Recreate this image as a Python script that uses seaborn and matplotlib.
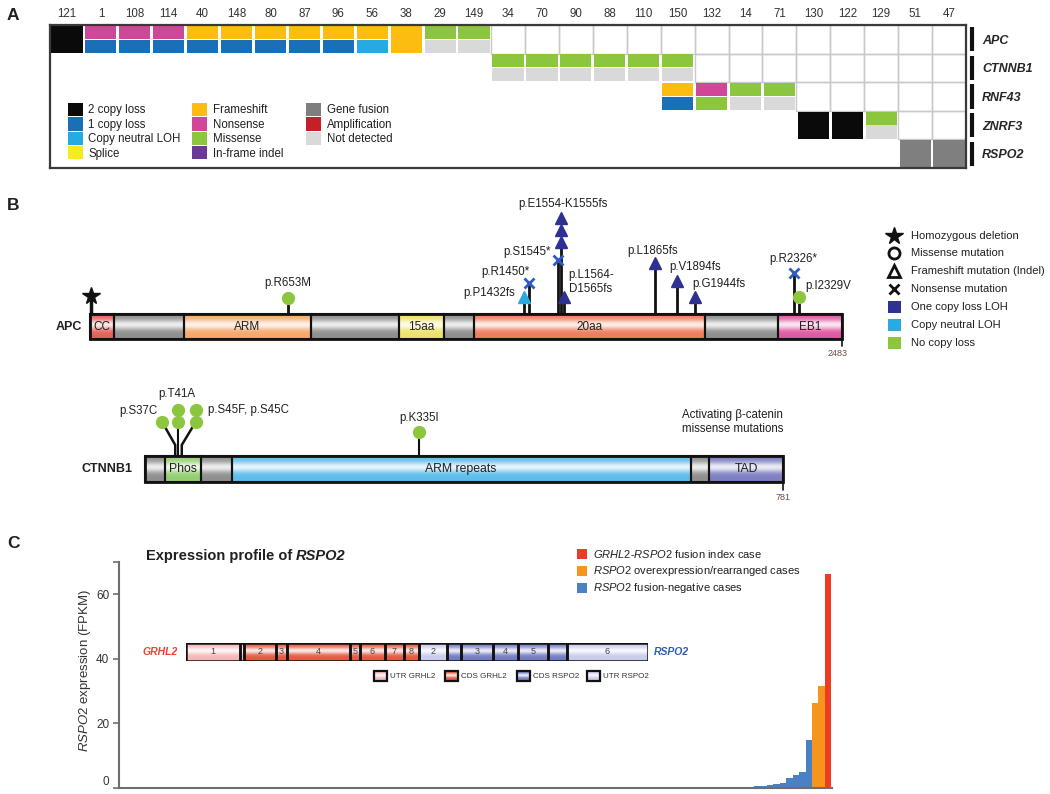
import numpy as np
import pandas as pd
import matplotlib
matplotlib.use('Agg')
import matplotlib.pyplot as plt
from matplotlib.patches import Rectangle
from matplotlib.colors import to_rgb
import seaborn as sns

sns.set_theme(style='white')
plt.rcParams['font.family'] = ['Liberation Sans', 'DejaVu Sans']
plt.rcParams['mathtext.fontset'] = 'custom'
plt.rcParams['mathtext.rm'] = 'Liberation Sans'
plt.rcParams['mathtext.it'] = 'Liberation Sans:italic'
plt.rcParams['mathtext.bf'] = 'Liberation Sans:bold'
plt.rcParams['text.color'] = '#231f20'

#%% Panel A data: samples, genes and calls (top half = mutation, bottom half = copy number)
samples = ['121', '1', '108', '114', '40', '148', '80', '87', '96', '56', '38', '29', '149',
           '34', '70', '90', '88', '110', '150', '132', '14', '71', '130', '122', '129', '51', '47']
genes = ['APC', 'CTNNB1', 'RNF43', 'ZNRF3', 'RSPO2']

apc_calls = {'121': ('2 copy loss', '2 copy loss'), '1': ('Nonsense', '1 copy loss'),
             '108': ('Nonsense', '1 copy loss'), '114': ('Nonsense', '1 copy loss'),
             '40': ('Frameshift', '1 copy loss'), '148': ('Frameshift', '1 copy loss'),
             '80': ('Frameshift', '1 copy loss'), '87': ('Frameshift', '1 copy loss'),
             '96': ('Frameshift', '1 copy loss'), '56': ('Frameshift', 'Copy neutral LOH'),
             '38': ('Frameshift', 'Frameshift'), '29': ('Missense', 'Not detected'),
             '149': ('Missense', 'Not detected')}
ctnnb1_calls = {'34': ('Missense', 'Not detected'), '70': ('Missense', 'Not detected'),
                '90': ('Missense', 'Not detected'), '88': ('Missense', 'Not detected'),
                '110': ('Missense', 'Not detected'), '150': ('Missense', 'Not detected')}
rnf43_calls = {'150': ('Frameshift', '1 copy loss'), '132': ('Nonsense', 'Missense'),
               '14': ('Missense', 'Not detected'), '71': ('Missense', 'Not detected')}
znrf3_calls = {'130': ('2 copy loss', '2 copy loss'), '122': ('2 copy loss', '2 copy loss'),
               '129': ('Missense', 'Not detected')}
rspo2_calls = {'51': ('Gene fusion', 'Gene fusion'), '47': ('Gene fusion', 'Gene fusion')}
gene_calls = [apc_calls, ctnnb1_calls, rnf43_calls, znrf3_calls, rspo2_calls]

alt_colors = {'2 copy loss': '#0a0a0a', '1 copy loss': '#1a6fb7', 'Copy neutral LOH': '#27aae1',
              'Splice': '#f4ec1b', 'Frameshift': '#fdbd10', 'Nonsense': '#d0479a',
              'Missense': '#8cc63e', 'In-frame indel': '#6b3a96', 'Gene fusion': '#7f7f7f',
              'Amplification': '#c4202a', 'Not detected': '#d9d9d9'}
legend_cols = [['2 copy loss', '1 copy loss', 'Copy neutral LOH', 'Splice'],
               ['Frameshift', 'Nonsense', 'Missense', 'In-frame indel'],
               ['Gene fusion', 'Amplification', 'Not detected']]

#%% Panel B data: protein domains and mutations
apc_len = 2483
apc_dom_name = ['CC', '', 'ARM', '', '15aa', '', '20aa', '', 'EB1']
apc_dom_start = [0, 80, 310, 730, 1020, 1169, 1268, 2030, 2271]
apc_dom_end = [80, 310, 730, 1020, 1169, 1268, 2030, 2271, 2483]
apc_dom_color = ['#e4625e', '#8f8f8f', '#f6a86c', '#8f8f8f', '#ece36a', '#8f8f8f', '#ee7d5e', '#8f8f8f', '#e05aa2']

apc_mut_label = ['p.R653M', 'p.P1432fs', 'p.R1450*', 'p.S1545*', 'p.E1554-K1555fs', 'p.L1564-\nD1565fs',
                 'p.L1865fs', 'p.V1894fs', 'p.G1944fs', 'p.R2326*', 'p.I2329V']
apc_mut_pos = [653, 1432, 1450, 1545, 1554, 1564, 1865, 1938, 1997, 2323, 2341]
apc_mut_type = ['missense', 'frameshift', 'nonsense', 'nonsense', 'frameshift', 'frameshift',
                'frameshift', 'frameshift', 'frameshift', 'nonsense', 'missense']
apc_mut_cn = ['none', 'neutral', 'one', 'one', 'one', 'one', 'one', 'one', 'one', 'one', 'none']
apc_mut_count = [1, 1, 1, 1, 3, 1, 1, 1, 1, 1, 1]

ctn_len = 781
ctn_dom_name = ['', 'Phos', '', 'ARM repeats', '', 'TAD']
ctn_dom_start = [0, 24, 68, 106, 668, 691]
ctn_dom_end = [24, 68, 106, 668, 691, 781]
ctn_dom_color = ['#8f8f8f', '#93cf72', '#8f8f8f', '#5ebdea', '#8f8f8f', '#7e7ec2']
ctn_mut_label = ['p.S37C', 'p.T41A', 'p.S45F, p.S45C', 'p.K335I']
ctn_mut_pos = [37, 41, 45, 335]
ctn_mut_count = [1, 2, 2, 1]

#%% Panel C data: RSPO2 FPKM, cases sorted
fusion_neg = [0, 0, 0, 0, 0, 0, 0, 0, 0, 0, 0, 0, 0, 0, 0, 0, 0, 0, 0, 0,
              0, 0, 0, 0, 0, 0, 0, 0, 0, 0, 0, 0, 0, 0, 0, 0, 0, 0, 0, 0,
              0, 0, 0, 0, 0, 0, 0, 0, 0, 0, 0, 0, 0, 0, 0, 0, 0, 0, 0, 0,
              0, 0, 0, 0, 0, 0, 0, 0, 0, 0, 0, 0, 0, 0, 0, 0, 0, 0, 0, 0,
              0, 0, 0, 0, 0, 0, 0.1, 0.1, 0.1, 0.1, 0.1, 0.1,
              0.15, 0.2, 0.2, 0.25, 0.3, 0.3, 0.5, 0.6, 0.9, 1.1, 1.5, 3.1, 4.0, 4.9, 14.8]
rspo2_over = [26.2, 31.7]
fusion_index = [66.2]
c_colors = {'neg': '#4a80c4', 'over': '#f7941d', 'index': '#ef3b24'}

exon_label = ['1', '', '2', '3', '4', '5', '6', '7', '8', '2', '', '3', '4', '5', '', '6']
exon_width = [54, 4, 32, 11, 63, 10, 25, 19, 15, 28, 14, 32, 25, 30, 19, 81]
exon_kind = ['UTR GRHL2', 'UTR GRHL2', 'CDS GRHL2', 'CDS GRHL2', 'CDS GRHL2', 'CDS GRHL2', 'CDS GRHL2',
             'CDS GRHL2', 'CDS GRHL2', 'UTR RSPO2', 'CDS RSPO2', 'CDS RSPO2', 'CDS RSPO2', 'CDS RSPO2',
             'CDS RSPO2', 'UTR RSPO2']
exon_colors = {'UTR GRHL2': '#f5b7b5', 'CDS GRHL2': '#e25a40', 'CDS RSPO2': '#737dc4', 'UTR RSPO2': '#c8ccee'}

#%% figure
W, H = 1050, 794
fig = plt.figure(figsize=(10.5, 7.94), dpi=100)


def px_axes(x0, y0, x1, y1):
    a = fig.add_axes([x0 / W, 1 - y1 / H, (x1 - x0) / W, (y1 - y0) / H])
    a.patch.set_visible(False)
    return a


def shiny_box(ax, x0, x1, yb, yt, color, lw=1.5, z=2):
    base = np.array(to_rgb(color))
    t = np.linspace(0, 1, 48)[:, None]
    w = 0.85 * np.exp(-((t - 0.42) / 0.2) ** 2)
    img = (base * (1 - w) + w)[:, None, :]
    ax.imshow(img, extent=(x0, x1, yb, yt), origin='upper', aspect='auto',
              interpolation='bilinear', zorder=z)
    ax.add_patch(Rectangle((x0, min(yb, yt)), x1 - x0, abs(yt - yb), fill=False,
                           ec='#111111', lw=lw, zorder=z + 0.1))


# ---------- Panel A ----------
axA = px_axes(50, 25, 966, 168)
nS, nG = len(samples), len(genes)
col = {s: i for i, s in enumerate(samples)}
for r, calls in enumerate(gene_calls):
    last = max(col[s] for s in calls)
    for c in range(last + 1, nS):
        axA.add_patch(Rectangle((c, r), 1, 1, fill=False, ec='#c9c9c9', lw=1, zorder=1))
    for s, (top, bot) in calls.items():
        c = col[s]
        if top == bot:
            axA.add_patch(Rectangle((c + 0.04, r + 0.03), 0.92, 0.94, fc=alt_colors[top], ec='none', zorder=2))
        else:
            axA.add_patch(Rectangle((c + 0.04, r + 0.03), 0.92, 0.45, fc=alt_colors[top], ec='none', zorder=2))
            axA.add_patch(Rectangle((c + 0.04, r + 0.51), 0.92, 0.46, fc=alt_colors[bot], ec='none', zorder=2))
    axA.plot([nS + 0.18, nS + 0.18], [r + 0.08, r + 0.92], color='#111111', lw=3,
             solid_capstyle='butt', clip_on=False)
axA.set_xlim(0, nS)
axA.set_ylim(nG, 0)
axA.set_xticks(np.arange(nS) + 0.5, samples)
axA.xaxis.tick_top()
axA.tick_params(axis='x', length=0, pad=3.5, labelsize=8.3, labelcolor='#333333')
axA.set_yticks(np.arange(nG) + 0.5, genes)
axA.yaxis.tick_right()
axA.tick_params(axis='y', length=0, pad=11.5, labelsize=9)
for lab in axA.get_yticklabels():
    lab.set_fontweight('bold')
    lab.set_fontstyle('italic')
for sp in axA.spines.values():
    sp.set_visible(True)
    sp.set_color('#3a3a3a')
    sp.set_linewidth(1.6)

# ---------- Panel B: APC ----------
s_apc = (842 - 90) / apc_len
axB = px_axes(40, 190, 870, 362)
axB.set_xlim((40 - 90) / s_apc, (870 - 90) / s_apc)
axB.set_ylim(339 - 362, 339 - 190)
axB.set_autoscale_on(False)
axB.axis('off')
for d0, d1, name, c in zip(apc_dom_start, apc_dom_end, apc_dom_name, apc_dom_color):
    shiny_box(axB, d0, d1, 0, 25, c)
    if name:
        axB.text((d0 + d1) / 2, 12.5, name, ha='center', va='center', fontsize=8.5, zorder=5)
axB.add_patch(Rectangle((0, 0), apc_len, 25, fill=False, ec='#111111', lw=2, zorder=3))
axB.plot([apc_len, apc_len], [0, -7], color='#111111', lw=1.2)
axB.text(apc_len - 16, -14, str(apc_len), ha='center', va='center', fontsize=6.5, color='#6b4e45')
# homozygous deletion of the whole gene
axB.plot([3, 3], [25, 43], color='#111111', lw=2.5, zorder=1)
axB.plot(3, 43, marker='*', ms=13, color='#111111', zorder=4)

mk = {'missense': 'o', 'frameshift': '^', 'nonsense': 'x'}
cn_col = {'one': '#2e3192', 'neutral': '#29abe2', 'none': '#8cc63e'}
apc_head = [41, 42, 56, 79, 97, 42, 76, 58, 42, 66, 42]
apc_off = [(0, 15, 'center'), (-9, 4, 'right'), (-24, 11, 'center'), (-7, 8, 'right'),
           (2, 14, 'center'), (5, 15, 'left'), (-2, 12, 'center'), (-8, 14, 'left'),
           (-3, 13, 'left'), (0, 14, 'center'), (6, 11, 'left')]
for lab, pos, typ, cn, n, h, (dx, dy, ha) in zip(apc_mut_label, apc_mut_pos, apc_mut_type, apc_mut_cn,
                                                 apc_mut_count, apc_head, apc_off):
    top = h + 12 * (n - 1)
    axB.plot([pos, pos], [25, h], color='#111111', lw=2, zorder=1)
    for k in range(n):
        if typ == 'nonsense':
            axB.plot(pos, h + 12 * k, marker='x', ms=7.5, mew=2, color='#2f5bc4', zorder=4)
        else:
            axB.plot(pos, h + 12 * k, marker=mk[typ], ms=9 if typ == 'frameshift' else 8.5,
                     color=cn_col[cn], mec=cn_col[cn], zorder=4)
    axB.annotate(lab, (pos, top), xytext=(dx, dy), textcoords='offset pixels',
                 ha=ha, va='center', fontsize=8.3, linespacing=1.15)

# ---------- Panel B: CTNNB1 ----------
s_ctn = (783 - 145) / ctn_len
axB2 = px_axes(40, 380, 870, 505)
axB2.set_xlim((40 - 145) / s_ctn, (870 - 145) / s_ctn)
axB2.set_ylim(482 - 505, 482 - 380)
axB2.set_autoscale_on(False)
axB2.axis('off')
for d0, d1, name, c in zip(ctn_dom_start, ctn_dom_end, ctn_dom_name, ctn_dom_color):
    shiny_box(axB2, d0, d1, 0, 26, c)
    if name:
        axB2.text((d0 + d1) / 2, 13, name, ha='center', va='center', fontsize=8.8, zorder=5)
axB2.add_patch(Rectangle((0, 0), ctn_len, 26, fill=False, ec='#111111', lw=2, zorder=3))
axB2.plot([ctn_len, ctn_len], [0, -8], color='#111111', lw=1.2)
axB2.text(ctn_len, -15, str(ctn_len), ha='center', va='center', fontsize=6.5, color='#6b4e45')

ctn_head_dx = [-16, 0, 17, 0]
ctn_head_h = [60, 60, 60, 50]
ctn_off = [(-24, 11, 'center'), (-2, 16, 'center'), (12, 0, 'left'), (0, 14, 'center')]
for lab, pos, n, hdx, h, (dx, dy, ha) in zip(ctn_mut_label, ctn_mut_pos, ctn_mut_count,
                                            ctn_head_dx, ctn_head_h, ctn_off):
    hx = pos + hdx
    if hdx:
        axB2.plot([pos, pos, hx], [26, 37, h], color='#111111', lw=1.8, zorder=1)
    else:
        axB2.plot([pos, pos], [26, h], color='#111111', lw=1.5, zorder=1)
    for k in range(n):
        axB2.plot(hx, h + 12 * k, marker='o', ms=8.5, color='#8cc63e', mec='#8cc63e', zorder=4)
    axB2.annotate(lab, (hx, h + 12 * (n - 1)), xytext=(dx, dy), textcoords='offset pixels',
                  ha=ha, va='center', fontsize=8.3)

# ---------- Panel C ----------
vals = fusion_neg + rspo2_over + fusion_index
grp = ['neg'] * len(fusion_neg) + ['over'] * len(rspo2_over) + ['index'] * len(fusion_index)
df = pd.DataFrame({'case': np.arange(len(vals)), 'fpkm': vals, 'group': grp})
axC = px_axes(119, 562, 832, 788)
sns.barplot(data=df, x='case', y='fpkm', hue='group', palette=c_colors, dodge=False, width=1,
            saturation=1, linewidth=0, errorbar=None, legend=False, native_scale=True, ax=axC)
axC.set_xlim(-1.3, len(vals) - 0.4)
axC.set_ylim(0, 70)
axC.set_xticks([])
axC.set_xlabel('')
axC.set_yticks([0, 20, 40, 60, 70], ['0', '20', '40', '60', ''])
axC.tick_params(axis='y', left=True, length=4, width=1.2, color='#6e6e6e', labelsize=8.5,
                labelcolor='#333333', pad=3)
axC.get_yticklabels()[0].set_va('bottom')
for side in ['top', 'right']:
    axC.spines[side].set_visible(False)
for side in ['left', 'bottom']:
    axC.spines[side].set_color('#6e6e6e')
    axC.spines[side].set_linewidth(1.5)
axC.set_ylabel(r'$\it{RSPO2}$ expression (FPKM)', fontsize=9.5, color='#333333')
axC.yaxis.set_label_coords(-0.037, 0.52)

# fusion transcript structure
axE = px_axes(186, 643, 648, 661)
edges = np.concatenate([[0], np.cumsum(exon_width)])
axE.set_xlim(0, edges[-1])
axE.set_ylim(0, 1)
axE.set_autoscale_on(False)
axE.axis('off')
for e0, e1, lab, kind in zip(edges[:-1], edges[1:], exon_label, exon_kind):
    shiny_box(axE, e0, e1, 0, 1, exon_colors[kind], lw=1.8)
    if lab:
        axE.text((e0 + e1) / 2, 0.5, lab, ha='center', va='center', fontsize=6.5, color='#444444', zorder=5)

# ---------- overlay: panel letters, legends, free text ----------
ov = px_axes(0, 0, W, H)
ov.set_xlim(0, W)
ov.set_ylim(H, 0)
ov.set_autoscale_on(False)
ov.axis('off')
for letter, y in [('A', 15), ('B', 205), ('C', 543)]:
    ov.text(7, y, letter, fontsize=12.5, fontweight='bold', va='center', ha='left')

# legend A
for (sq_x, tx_x), items in zip([(68.3, 88.3), (191.7, 213.3), (305.7, 326.7)], legend_cols):
    for k, name in enumerate(items):
        ov.add_patch(Rectangle((sq_x, 103 + 14.3 * k), 15, 13.4, fc=alt_colors[name], ec='none'))
        ov.text(tx_x, 110 + 14.6 * k, name, fontsize=8.3, va='center', ha='left')

# gene names in B
ov.text(69, 327, 'APC', fontsize=9, fontweight='bold', ha='center', va='center')
ov.text(107, 469, 'CTNNB1', fontsize=9, fontweight='bold', ha='center', va='center')
ov.text(682, 422, 'Activating \u03b2-catenin\nmissense mutations', fontsize=8.3, ha='left',
        va='center', linespacing=1.2)

# legend B
leg_b_y = [236, 253, 271, 289, 307, 325, 343]
leg_b_txt = ['Homozygous deletion', 'Missense mutation', 'Frameshift mutation (Indel)',
             'Nonsense mutation', 'One copy loss LOH', 'Copy neutral LOH', 'No copy loss']
ov.plot(894, leg_b_y[0], marker='*', ms=13, color='#111111')
ov.plot(894, leg_b_y[1], marker='o', ms=8, mfc='white', mec='#111111', mew=2)
ov.plot(894, leg_b_y[2], marker='^', ms=9, mfc='white', mec='#111111', mew=2)
ov.plot(894, leg_b_y[3], marker='x', ms=7, color='#111111', mew=2)
for y, c in zip(leg_b_y[4:], ['#2e3192', '#29abe2', '#8cc63e']):
    ov.add_patch(Rectangle((888, y - 6), 13, 12, fc=c, ec='none'))
for y, t in zip(leg_b_y, leg_b_txt):
    ov.text(911, y, t, fontsize=8, va='center', ha='left')

# panel C title and legend
t1 = ov.text(146, 556, 'Expression profile of', fontsize=10.5, fontweight='bold', va='center', ha='left')
ov.annotate('RSPO2', xy=(1, 0.5), xycoords=t1, xytext=(3, 0), textcoords='offset pixels',
            fontsize=10.5, fontweight='bold', fontstyle='italic', va='center', ha='left')
leg_c = [('index', r'$\it{GRHL2}$-$\it{RSPO2}$ fusion index case'),
         ('over', r'$\it{RSPO2}$ overexpression/rearranged cases'),
         ('neg', r'$\it{RSPO2}$ fusion-negative cases')]
for k, (g, t) in enumerate(leg_c):
    y = 554 + 17 * k
    ov.add_patch(Rectangle((577, y - 5), 10, 10, fc=c_colors[g], ec='none'))
    ov.text(593, y, t, fontsize=8, va='center', ha='left')

ov.text(178, 652, 'GRHL2', fontsize=7.5, fontweight='bold', fontstyle='italic', color='#ef4136',
        ha='right', va='center')
ov.text(654, 652, 'RSPO2', fontsize=7.5, fontweight='bold', fontstyle='italic', color='#2e5cb8',
        ha='left', va='center')
for x0, kind in zip([374, 445, 517, 587], ['UTR GRHL2', 'CDS GRHL2', 'CDS RSPO2', 'UTR RSPO2']):
    shiny_box(ov, x0, x0 + 13, 681, 671, exon_colors[kind], lw=1.6)
    ov.text(x0 + 16, 676, kind, fontsize=5.8, va='center', ha='left', color='#333333')

fig.savefig('out.png', dpi=100)
